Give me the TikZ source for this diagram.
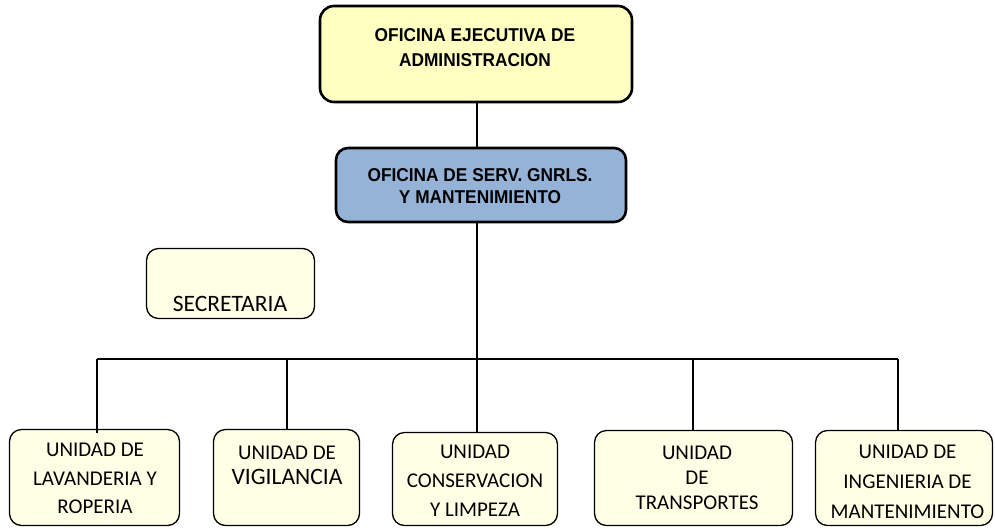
\documentclass[tikz,border=0pt]{standalone}
\usepackage{fontspec}
\setmainfont{Carlito}
\newfontfamily\hdfont[FakeStretch=0.93]{Liberation Sans}
\definecolor{topfill}{HTML}{FFFFC2}
\definecolor{unitfill}{HTML}{FFFFE6}
\definecolor{bluefill}{HTML}{95B3D7}
\tikzset{
  bigbox/.style={draw=black, line width=2.6pt, rounded corners=14pt, inner sep=0pt},
  unitbox/.style={draw=black, line width=1.3pt, fill=unitfill, rounded corners=12pt, inner sep=0pt},
  hdtext/.style={font=\hdfont\bfseries\fontsize{18.6}{25}\selectfont, align=center, inner sep=0pt},
  unittext/.style={font=\fontsize{21}{28.5}\selectfont, align=center, inner sep=0pt},
  conn/.style={draw=black, line width=1.3pt}
}
\begin{document}
\begin{tikzpicture}[x=1pt, y=-1pt]
\useasboundingbox (0,0) rectangle (995,528);
% boxes
\node[bigbox, fill=topfill, minimum width=312pt, minimum height=96pt] (top) at (476,54) {};
\node[bigbox, fill=bluefill, rounded corners=12pt, minimum width=290pt, minimum height=74pt] (serv) at (481,185) {};
\node[unitbox, minimum width=168pt, minimum height=70pt] (sec) at (230.5,283.5) {};
\node[unitbox, minimum width=170pt, minimum height=96pt] (b1) at (94.5,477.5) {};
\node[unitbox, minimum width=146pt, minimum height=96pt] (b2) at (286.5,477.5) {};
\node[unitbox, minimum width=165pt, minimum height=93pt] (b3) at (475,479) {};
\node[unitbox, minimum width=198pt, minimum height=95pt] (b4) at (693.5,478) {};
\node[unitbox, minimum width=177pt, minimum height=95pt] (b5) at (904,478) {};
% texts
\node[hdtext] (toptxt) at (475,47.5) {OFICINA EJECUTIVA DE\\ADMINISTRACION};
\node[hdtext, font=\hdfont\bfseries\fontsize{18.6}{22}\selectfont] (servtxt) at (480,186) {OFICINA DE SERV. GNRLS.\\Y MANTENIMIENTO};
\node[unittext, font=\fontsize{23.5}{28}\selectfont] (sectxt) at (230,304) {SECRETARIA};
\node[unittext] (b1txt) at (95,478.5) {UNIDAD DE\\LAVANDERIA Y\\ROPERIA};
\node[unittext, anchor=base] (b2txta) at (287,459) {UNIDAD DE};
\node[unittext, anchor=base, font=\fontsize{23.5}{28}\selectfont] (b2txtb) at (287,484.5) {VIGILANCIA};
\node[unittext, font=\fontsize{21}{29}\selectfont] (b3txt) at (475,481) {UNIDAD\\CONSERVACION\\Y LIMPEZA};
\node[unittext, font=\fontsize{21}{25}\selectfont] (b4txt) at (697,478) {UNIDAD\\DE\\TRANSPORTES};
\node[unittext, font=\fontsize{21}{30}\selectfont] (b5txt) at (907.5,482) {UNIDAD DE\\INGENIERIA DE\\MANTENIMIENTO};
% connectors
\coordinate (busL) at (97,359);
\coordinate (busR) at (898,359);
\coordinate (busM) at (477,359);
\coordinate (b2d) at (287,359);
\coordinate (b4d) at (693,359);
\draw[conn] (top.south -| busM) -- (serv.north -| busM);
\draw[conn] (serv.south -| busM) -- (b3.north -| busM);
\draw[conn] (busL) -- (busR);
\draw[conn] (busL) -- ([yshift=-4pt]b1.north -| busL);
\draw[conn] (b2d) -- (b2.north -| b2d);
\draw[conn] (b4d) -- (b4.north -| b4d);
\draw[conn] (busR) -- (b5.north -| busR);
\end{tikzpicture}
\end{document}
